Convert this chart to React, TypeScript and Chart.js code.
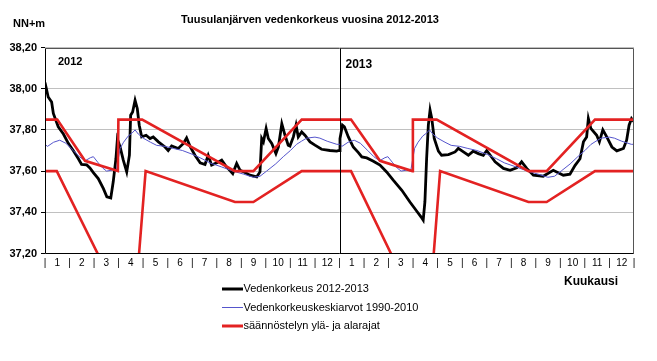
import React, { useEffect, useRef } from "react";
import { Chart, registerables } from "chart.js";

Chart.register(...registerables);

// x = months from the start of 2012 (0..24), y = water level NN+m
const monthLabels = ["1", "2", "3", "4", "5", "6", "7", "8", "9", "10", "11", "12"];
const yTickValues = [37.2, 37.4, 37.6, 37.8, 38.0, 38.2];
const yearLabels = ["2012", "2013"];

// Vedenkorkeus 2012-2013 (daily level)
const waterLevel: [number, number][] = [
  [0.0, 38.03], [0.13, 37.96], [0.27, 37.935], [0.34, 37.88], [0.54, 37.815], [0.75, 37.78],
  [0.95, 37.735], [1.15, 37.7], [1.36, 37.66], [1.49, 37.632], [1.7, 37.63], [1.83, 37.615],
  [1.97, 37.593], [2.17, 37.564], [2.38, 37.515], [2.52, 37.475], [2.68, 37.47], [2.78, 37.548],
  [2.89, 37.66], [2.95, 37.755], [3.06, 37.717], [3.19, 37.653], [3.33, 37.596], [3.44, 37.677],
  [3.49, 37.871], [3.57, 37.887], [3.67, 37.944], [3.76, 37.904], [3.84, 37.823], [3.94, 37.766],
  [4.12, 37.774], [4.28, 37.758], [4.41, 37.766], [4.62, 37.742], [4.89, 37.717], [5.02, 37.7],
  [5.16, 37.722], [5.43, 37.71], [5.64, 37.734], [5.77, 37.761], [5.91, 37.72], [6.11, 37.677],
  [6.32, 37.64], [6.52, 37.632], [6.65, 37.677], [6.79, 37.629], [7.0, 37.64], [7.2, 37.653],
  [7.4, 37.62], [7.65, 37.588], [7.81, 37.637], [7.95, 37.604], [8.15, 37.593], [8.35, 37.58],
  [8.63, 37.572], [8.76, 37.596], [8.83, 37.758], [8.9, 37.742], [9.01, 37.807], [9.1, 37.758],
  [9.24, 37.734], [9.41, 37.685], [9.51, 37.717], [9.65, 37.83], [9.78, 37.774], [9.91, 37.726],
  [9.98, 37.722], [10.12, 37.766], [10.23, 37.823], [10.32, 37.766], [10.46, 37.79], [10.59, 37.774],
  [10.8, 37.742], [11.0, 37.726], [11.27, 37.706], [11.61, 37.7], [11.89, 37.697], [11.98, 37.7],
  [12.02, 37.758], [12.12, 37.823], [12.2, 37.815], [12.36, 37.766], [12.56, 37.717], [12.77, 37.69],
  [12.91, 37.669], [13.11, 37.664], [13.38, 37.648], [13.65, 37.629], [13.92, 37.596], [14.19, 37.556],
  [14.54, 37.507], [14.87, 37.45], [15.15, 37.405], [15.32, 37.378], [15.41, 37.362], [15.48, 37.45],
  [15.55, 37.661], [15.62, 37.823], [15.69, 37.896], [15.76, 37.855], [15.86, 37.758], [16.03, 37.697],
  [16.16, 37.677], [16.44, 37.68], [16.71, 37.693], [16.84, 37.71], [17.05, 37.693], [17.25, 37.677],
  [17.45, 37.697], [17.66, 37.685], [17.86, 37.677], [18.0, 37.7], [18.34, 37.645], [18.68, 37.613],
  [18.95, 37.604], [19.22, 37.616], [19.42, 37.645], [19.63, 37.613], [19.9, 37.58], [20.3, 37.575],
  [20.71, 37.604], [21.12, 37.58], [21.39, 37.585], [21.6, 37.628], [21.8, 37.66], [21.94, 37.742],
  [22.07, 37.766], [22.14, 37.855], [22.24, 37.807], [22.48, 37.774], [22.59, 37.742], [22.73, 37.8],
  [22.89, 37.766], [23.1, 37.717], [23.3, 37.698], [23.57, 37.71], [23.7, 37.75], [23.8, 37.823],
  [23.9, 37.855], [24.0, 37.84],
];

// Vedenkorkeuskeskiarvot 1990-2010 (one calendar year of long-term means)
const meanLevel: [number, number][] = [
  [0, 37.73], [0.1, 37.72], [0.35, 37.74], [0.6, 37.75], [0.85, 37.735], [1.15, 37.7],
  [1.4, 37.67], [1.63, 37.65], [1.85, 37.665], [1.97, 37.67], [2.17, 37.64], [2.35, 37.615],
  [2.51, 37.6], [2.75, 37.605], [2.9, 37.6], [3.06, 37.71], [3.2, 37.74], [3.39, 37.77],
  [3.55, 37.785], [3.67, 37.8], [3.8, 37.78], [4.0, 37.76], [4.3, 37.74], [4.55, 37.725],
  [4.9, 37.72], [5.23, 37.71], [5.6, 37.7], [6.04, 37.68], [6.4, 37.66], [6.72, 37.64],
  [7.2, 37.62], [7.66, 37.6], [8.1, 37.585], [8.49, 37.57], [8.76, 37.575], [9.03, 37.6],
  [9.4, 37.635], [9.71, 37.67], [10.0, 37.7], [10.25, 37.73], [10.45, 37.745], [10.66, 37.76],
  [11.0, 37.765], [11.2, 37.76], [11.5, 37.745], [11.89, 37.73],
];
const meanYears = [0, 12];

// säännöstelyn ylä- ja alarajat
const upperLimit: [number, number][] = [
  [0, 37.85], [0.5, 37.85], [1.63, 37.65], [2.97, 37.6], [2.99, 37.85], [3.96, 37.85],
  [7.74, 37.6], [8.49, 37.6], [10.46, 37.85], [12.47, 37.85], [13.65, 37.65], [14.97, 37.6],
  [14.99, 37.85], [15.96, 37.85], [19.7, 37.6], [20.44, 37.6], [22.41, 37.85], [24, 37.85],
];
const lowerLimit: [number, number][] = [
  [0, 37.6], [0.48, 37.6], [3.6, 36.85], [4.1, 37.6], [7.74, 37.45], [8.49, 37.45],
  [10.46, 37.6], [12.47, 37.6], [15.6, 36.83], [16.1, 37.6], [19.7, 37.45], [20.44, 37.45],
  [22.41, 37.6], [24, 37.6],
];

const legendItems = [
  { label: "Vedenkorkeus 2012-2013", color: "#000000", width: 3 },
  { label: "Vedenkorkeuskeskiarvot 1990-2010", color: "#5555cc", width: 1 },
  { label: "säännöstelyn ylä- ja alarajat", color: "#e32222", width: 3 },
];

const toXY = (arr: [number, number][], off = 0) => arr.map(([x, y]) => ({ x: x + off, y }));

export default function App() {
  const ref = useRef<HTMLCanvasElement | null>(null);

  useEffect(() => {
    if (!ref.current) return;
    const meanData: { x: number; y: number }[] = [];
    meanYears.forEach((off) => meanData.push(...toXY(meanLevel, off)));
    meanData.push({ x: 24, y: meanLevel[meanLevel.length - 1][1] });

    const xTicks: number[] = [];
    for (let i = 0; i <= 48; i++) xTicks.push(i / 2);

    const decor = {
      id: "decor",
      afterDatasetsDraw(chart: any) {
        const { ctx, chartArea, scales } = chart;
        const xs = scales.x;
        ctx.save();
        ctx.lineWidth = 1;
        ctx.strokeStyle = "#555";
        const l = Math.round(chartArea.left) + 0.5;
        const r = Math.round(chartArea.right) - 0.5;
        const t = Math.round(chartArea.top) + 0.5;
        const b = Math.round(chartArea.bottom) - 0.5;
        ctx.beginPath();
        ctx.moveTo(l, t);
        ctx.lineTo(r, t);
        ctx.lineTo(r, b);
        ctx.stroke();
        ctx.strokeStyle = "#000";
        ctx.beginPath();
        ctx.moveTo(l, t);
        ctx.lineTo(l, b);
        ctx.lineTo(r, b);
        ctx.stroke();
        const xd = Math.round(xs.getPixelForValue(12)) + 0.5;
        ctx.beginPath();
        ctx.moveTo(xd, t);
        ctx.lineTo(xd, b);
        ctx.stroke();
        ctx.restore();
      },
      afterDraw(chart: any) {
        const { ctx, scales } = chart;
        const xs = scales.x;
        ctx.save();
        ctx.fillStyle = "#000";
        ctx.textBaseline = "middle";
        ctx.textAlign = "center";
        ctx.font = "bold 11px Arial, 'Liberation Sans'";
        ctx.fillText("Tuusulanjärven vedenkorkeus vuosina 2012-2013", 310, 20);
        ctx.textAlign = "left";
        ctx.fillText("NN+m", 13, 24);
        ctx.font = "bold 11px Arial, 'Liberation Sans'";
        ctx.fillText(yearLabels[0], xs.getPixelForValue(0) + 13, 62);
        ctx.font = "bold 12px Arial, 'Liberation Sans'";
        ctx.fillText(yearLabels[1], xs.getPixelForValue(12) + 6, 65);
        ctx.fillText("Kuukausi", 564, 282);
        ctx.font = "11px Arial, 'Liberation Sans'";
        const rows = [289, 307.5, 326];
        legendItems.forEach((it, i) => {
          ctx.strokeStyle = it.color;
          ctx.lineWidth = it.width;
          ctx.beginPath();
          ctx.moveTo(222, rows[i]);
          ctx.lineTo(243, rows[i]);
          ctx.stroke();
          ctx.fillText(it.label, 243.5, rows[i]);
        });
        ctx.restore();
      },
    };

    const chart = new Chart(ref.current, {
      type: "line",
      data: {
        datasets: [
          {
            label: legendItems[2].label,
            data: toXY(upperLimit),
            borderColor: legendItems[2].color,
            borderWidth: 2.6,
            pointRadius: 0,
            order: 0,
          },
          {
            label: legendItems[2].label + " (ala)",
            data: toXY(lowerLimit),
            borderColor: legendItems[2].color,
            borderWidth: 2.6,
            pointRadius: 0,
            order: 0,
          },
          {
            label: legendItems[1].label,
            data: meanData,
            borderColor: legendItems[1].color,
            borderWidth: 1,
            pointRadius: 0,
            order: 1,
          },
          {
            label: legendItems[0].label,
            data: toXY(waterLevel),
            borderColor: legendItems[0].color,
            borderWidth: 2.8,
            pointRadius: 0,
            order: 2,
          },
        ],
      },
      options: {
        responsive: false,
        animation: false,
        events: [],
        layout: { padding: { left: 0, right: 23, top: 47.5, bottom: 87.5 } },
        plugins: {
          legend: { display: false },
          title: { display: false },
          tooltip: { enabled: false },
        },
        scales: {
          x: {
            type: "linear",
            min: 0,
            max: 24,
            afterFit: (s: any) => {
              s.height = 20;
            },
            afterBuildTicks: (s: any) => {
              s.ticks = xTicks.map((v) => ({ value: v }));
            },
            grid: { display: false, drawTicks: false },
            border: { display: false },
            ticks: {
              autoSkip: false,
              maxRotation: 0,
              minRotation: 0,
              padding: 4,
              color: "#000",
              font: { family: "Arial, 'Liberation Sans'", size: 10 },
              callback: (v: any) => {
                const n = Number(v);
                if (Math.abs(n - Math.round(n)) < 1e-6) return "|";
                return monthLabels[Math.floor(n) % 12];
              },
            },
          },
          y: {
            type: "linear",
            min: 37.2,
            max: 38.2,
            afterFit: (s: any) => {
              s.width = 45;
            },
            afterBuildTicks: (s: any) => {
              s.ticks = yTickValues.map((v) => ({ value: v }));
            },
            grid: { color: "#c0c0c0", tickColor: "#000", tickLength: 4 },
            border: { display: false },
            ticks: {
              padding: 4,
              color: "#000",
              font: { family: "Arial, 'Liberation Sans'", size: 11, weight: "bold" },
              callback: (v: any) => Number(v).toFixed(2).replace(".", ","),
            },
          },
        },
      },
      plugins: [decor],
    } as any);
    return () => chart.destroy();
  }, []);

  return (
    <div style={{ position: "fixed", left: 0, top: 0, width: 657, height: 361, background: "#fff" }}>
      <canvas ref={ref} width={657} height={361} />
    </div>
  );
}
